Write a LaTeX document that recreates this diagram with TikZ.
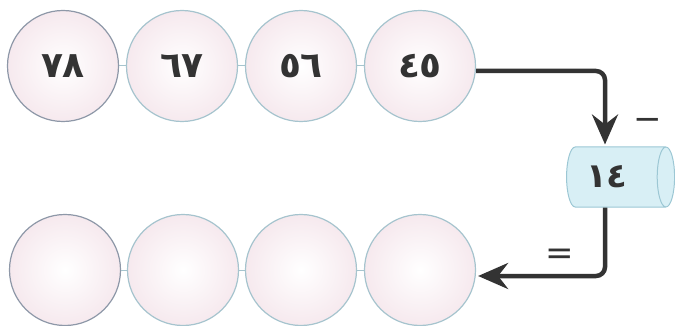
\documentclass[tikz,border=0pt]{standalone}
\usepackage{fontspec}
\newfontfamily\arabicfont[Script=Arabic]{DejaVu Sans}
\newfontfamily\symfont{DejaVu Sans}
\usetikzlibrary{shapes.geometric,arrows.meta}
\definecolor{ringcol}{HTML}{A6C4CE}
\definecolor{ringdark}{HTML}{8E98A8}
\definecolor{pinkfill}{HTML}{F6E9EE}
\definecolor{cylfill}{HTML}{D8EFF5}
\definecolor{cylline}{HTML}{9CC7D4}
\definecolor{inkcol}{HTML}{333333}
\tikzset{
  ball/.style={circle, draw=ringcol, line width=1.2pt, minimum size=111pt, inner sep=0pt,
    inner color=white, outer color=pinkfill,
    font=\arabicfont\bfseries\fontsize{36}{36}\selectfont, text=inkcol},
  link/.style={draw=ringcol, line width=1pt},
  flow/.style={draw=inkcol, line width=4.5pt, rounded corners=9pt,
    -{Stealth[length=30pt,width=26pt,inset=10pt]}},
  barrel/.style={shape=cylinder, draw=cylline, line width=1pt, fill=cylfill,
    minimum width=60pt, minimum height=108pt, shape aspect=0.55, aspect=0.6,
    font=\arabicfont\bfseries\fontsize{34}{34}\selectfont, text=inkcol},
  sign/.style={font=\symfont\fontsize{34}{34}\selectfont, text=inkcol, inner sep=0pt}
}
\begin{document}
\begin{tikzpicture}[x=1pt,y=-1pt]
\useasboundingbox (0,0) rectangle (675,326);
% top row
\node[ball, draw=ringdark] (t1) at (63,66) {٧٨};
\node[ball] (t2) at (182,66) {٦٧};
\node[ball] (t3) at (301,66) {٥٦};
\node[ball] (t4) at (420,66) {٤٥};
\draw[link] (t1.east) -- (t2.west);
\draw[link] (t2.east) -- (t3.west);
\draw[link] (t3.east) -- (t4.west);
% bottom row
\node[ball, draw=ringdark] (b1) at (65,270) {};
\node[ball] (b2) at (183,270) {};
\node[ball] (b3) at (301,270) {};
\node[ball] (b4) at (420,270) {};
\draw[link] (b1.east) -- (b2.west);
\draw[link] (b2.east) -- (b3.west);
\draw[link] (b3.east) -- (b4.west);
% cylinder
\node[barrel] (cyl) at (614,177) {\hspace*{-14pt}١٤};
% arrows
\coordinate (sTop) at ([yshift=-5pt]t4.east);
\draw[flow] (sTop) -| ([xshift=-9pt,yshift=2pt]cyl.north);
\coordinate (eBot) at ([xshift=2pt,yshift=-6pt]b4.east);
\draw[flow] ([xshift=-9pt]cyl.south) |- (eBot);
% signs
\node[sign] (minus) at (648,124) {−};
\node[sign] (equal) at (560,257) {=};
\end{tikzpicture}
\end{document}
